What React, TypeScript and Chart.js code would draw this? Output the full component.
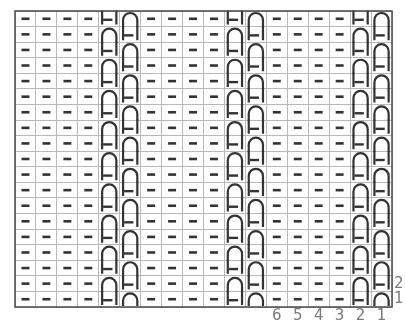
import React, { useEffect, useRef } from 'react';
import { Chart, registerables } from 'chart.js';

Chart.register(...registerables);

// Column numbers shown under the last repeat (left to right)
const colLabels = ['', '', '', '', '', '', '', '', '', '', '', '', '6', '5', '4', '3', '2', '1'];
// Row numbers shown at the right (top row 19 to bottom row 1)
const rowLabels = ['', '', '', '', '', '', '', '', '', '', '', '', '', '', '', '', '', '2', '1'];
// Stitch symbols, top row (19) to bottom row (1):
// '-' purl, 'n' top of a 2-row slipped stitch, 'u' its lower half (purl inside), 'o' single-row slip
const rowPatterns = [
  '----un----un----un',
  '----nu----nu----nu',
  '----un----un----un',
  '----nu----nu----nu',
  '----un----un----un',
  '----nu----nu----nu',
  '----un----un----un',
  '----nu----nu----nu',
  '----un----un----un',
  '----nu----nu----nu',
  '----un----un----un',
  '----nu----nu----nu',
  '----un----un----un',
  '----nu----nu----nu',
  '----un----un----un',
  '----nu----nu----nu',
  '----un----un----un',
  '----nu----nu----nu',
  '----uo----uo----uo',
];

const nRows = rowPatterns.length;
const nCols = rowPatterns[0].length;

const INK = '#333333';

const symbolPlugin = {
  id: 'knitSymbols',
  afterDatasetsDraw(chart: any) {
    const { ctx } = chart;
    const x = chart.scales.x;
    const y = chart.scales.y;
    const meta = chart.getDatasetMeta(0);
    const data = chart.data.datasets[0].data as any[];
    const cw = Math.abs(x.getPixelForValue(1) - x.getPixelForValue(0));
    const ch = Math.abs(y.getPixelForValue(1) - y.getPixelForValue(0));
    const r = cw * 0.34;
    ctx.save();
    ctx.strokeStyle = INK;
    ctx.lineCap = 'butt';
    meta.data.forEach((el: any, i: number) => {
      const code = data[i].code;
      const cx = el.x;
      const cy = el.y;
      const top = cy - ch / 2;
      const bot = cy + ch / 2;
      if (code === '-') {
        ctx.lineWidth = 2.6;
        ctx.beginPath();
        ctx.moveTo(cx - cw * 0.19, cy);
        ctx.lineTo(cx + cw * 0.19, cy);
        ctx.stroke();
      } else if (code === 'n' || code === 'o') {
        const legEnd = code === 'n' ? bot + 0.5 : bot - 1;
        const ay = top + 2 + r;
        ctx.lineWidth = 2.2;
        ctx.beginPath();
        ctx.moveTo(cx - r, legEnd);
        ctx.lineTo(cx - r, ay);
        ctx.arc(cx, ay, r, Math.PI, 0);
        ctx.lineTo(cx + r, legEnd);
        ctx.stroke();
      } else if (code === 'u') {
        ctx.lineWidth = 2.2;
        ctx.beginPath();
        ctx.moveTo(cx - r, top - 0.5);
        ctx.lineTo(cx - r, bot - 2);
        ctx.moveTo(cx + r, top - 0.5);
        ctx.lineTo(cx + r, bot - 2);
        ctx.stroke();
        ctx.lineWidth = 2.4;
        ctx.beginPath();
        ctx.moveTo(cx - r + 1, cy + 1);
        ctx.lineTo(cx + r * 0.45, cy + 1);
        ctx.stroke();
      }
    });
    ctx.restore();
  },
};

const framePlugin = {
  id: 'frame',
  afterDraw(chart: any) {
    const { ctx, chartArea: a } = chart;
    ctx.save();
    ctx.strokeStyle = '#4a4a4a';
    ctx.lineWidth = 1.5;
    ctx.strokeRect(a.left, a.top, a.right - a.left, a.bottom - a.top);
    ctx.restore();
  },
};

export default function App() {
  const ref = useRef<HTMLCanvasElement>(null);

  useEffect(() => {
    const cells: any[] = [];
    rowPatterns.forEach((row, i) => {
      const rowNo = nRows - i;
      row.split('').forEach((code, c) => {
        cells.push({ x: c + 0.5, y: rowNo - 0.5, code });
      });
    });

    const labelFont = { family: 'DejaVu Sans', size: 15, weight: 'normal' as const };

    const chart = new Chart(ref.current as HTMLCanvasElement, {
      type: 'scatter',
      data: {
        datasets: [
          {
            data: cells,
            pointRadius: 0,
            pointHoverRadius: 0,
          },
        ],
      },
      plugins: [symbolPlugin, framePlugin],
      options: {
        animation: false,
        responsive: true,
        maintainAspectRatio: false,
        events: [],
        layout: { padding: { left: 15, top: 6, right: 0, bottom: 0 } },
        plugins: { legend: { display: false }, tooltip: { enabled: false } },
        scales: {
          x: {
            type: 'linear',
            position: 'bottom',
            min: 0,
            max: nCols,
            ticks: { display: false, stepSize: 1 },
            grid: { color: '#b8b8b8', lineWidth: 1, drawTicks: false },
            border: { display: false },
            afterFit: (s: any) => { s.height = 0; },
          },
          y: {
            type: 'linear',
            position: 'left',
            min: 0,
            max: nRows,
            ticks: { display: false, stepSize: 1 },
            grid: { color: '#b8b8b8', lineWidth: 1, drawTicks: false },
            border: { display: false },
            afterFit: (s: any) => { s.width = 0; },
          },
          xl: {
            type: 'category',
            position: 'bottom',
            labels: colLabels,
            offset: true,
            grid: { display: false, drawTicks: false },
            border: { display: false },
            ticks: {
              color: '#7a7a7a',
              font: labelFont,
              padding: 0,
              autoSkip: false,
              maxRotation: 0,
            },
            afterFit: (s: any) => { s.height = 18; },
          },
          yl: {
            type: 'category',
            position: 'right',
            labels: rowLabels,
            offset: true,
            grid: { display: false, drawTicks: false },
            border: { display: false },
            ticks: {
              color: '#7a7a7a',
              font: labelFont,
              padding: 2,
              autoSkip: false,
            },
            afterFit: (s: any) => { s.width = 14; },
          },
        },
      } as any,
    });
    return () => chart.destroy();
  }, []);

  return (
    <div style={{ position: 'fixed', left: 0, top: 0, width: 406, height: 325, background: '#ffffff' }}>
      <canvas ref={ref} />
    </div>
  );
}
